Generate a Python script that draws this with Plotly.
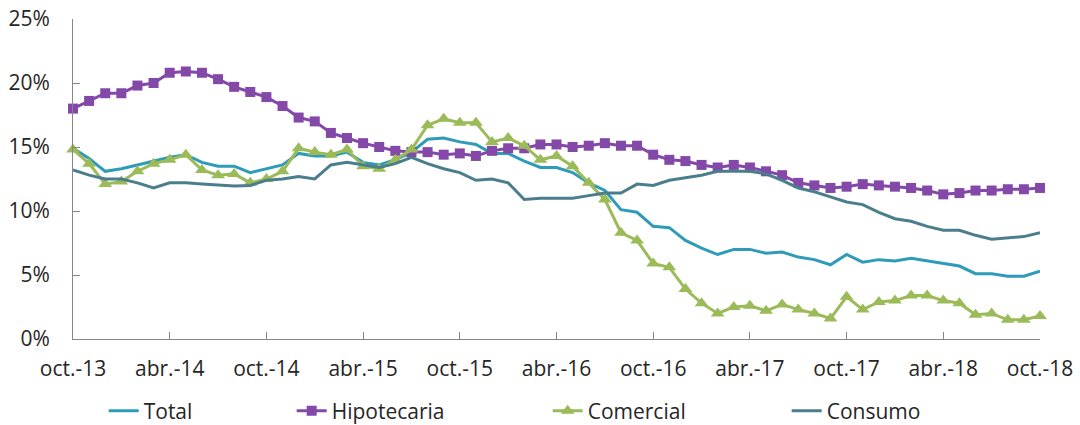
import plotly.graph_objects as go

# Monthly series, oct.-13 to oct.-18 (61 months), values in percent
months = list(range(61))
tick_positions = [0, 6, 12, 18, 24, 30, 36, 42, 48, 54, 60]
tick_labels = ["oct.-13", "abr.-14", "oct.-14", "abr.-15", "oct.-15", "abr.-16",
               "oct.-16", "abr.-17", "oct.-17", "abr.-18", "oct.-18"]

total = [14.9, 14.1, 13.1, 13.3, 13.6, 13.9, 14.2, 14.4, 13.8, 13.5,
         13.5, 13.0, 13.3, 13.6, 14.5, 14.3, 14.3, 14.6, 13.8, 13.6,
         14.0, 14.6, 15.6, 15.7, 15.4, 15.2, 14.5, 14.5, 13.9, 13.4,
         13.4, 13.0, 12.2, 11.6, 10.1, 9.9, 8.8, 8.7, 7.7, 7.1,
         6.6, 7.0, 7.0, 6.7, 6.8, 6.4, 6.2, 5.8, 6.6, 6.0,
         6.2, 6.1, 6.3, 6.1, 5.9, 5.7, 5.1, 5.1, 4.9, 4.9,
         5.3]

hipotecaria = [18.0, 18.6, 19.2, 19.2, 19.8, 20.0, 20.8, 20.9, 20.8, 20.3,
               19.7, 19.3, 18.9, 18.2, 17.3, 17.0, 16.1, 15.7, 15.3, 15.0,
               14.7, 14.6, 14.6, 14.4, 14.5, 14.3, 14.7, 14.9, 14.9, 15.2,
               15.2, 15.0, 15.1, 15.3, 15.1, 15.1, 14.4, 14.0, 13.9, 13.6,
               13.4, 13.6, 13.4, 13.1, 12.8, 12.2, 12.0, 11.8, 11.9, 12.1,
               12.0, 11.9, 11.8, 11.6, 11.3, 11.4, 11.6, 11.6, 11.7, 11.7,
               11.8]

comercial = [14.8, 13.7, 12.1, 12.3, 13.1, 13.7, 14.0, 14.4, 13.2, 12.8,
             12.9, 12.2, 12.5, 13.1, 14.9, 14.6, 14.4, 14.8, 13.5, 13.3,
             14.0, 14.8, 16.7, 17.2, 16.9, 16.9, 15.4, 15.7, 15.1, 14.0,
             14.3, 13.5, 12.2, 10.9, 8.3, 7.7, 5.9, 5.6, 3.9, 2.8,
             2.0, 2.5, 2.6, 2.2, 2.7, 2.3, 2.0, 1.6, 3.3, 2.3,
             2.9, 3.0, 3.4, 3.4, 3.0, 2.8, 1.9, 2.0, 1.5, 1.5,
             1.8]

consumo = [13.2, 12.8, 12.5, 12.5, 12.2, 11.8, 12.2, 12.2, 12.1, 12.0,
           11.95, 12.0, 12.4, 12.5, 12.7, 12.5, 13.6, 13.8, 13.6, 13.4,
           13.7, 14.2, 13.7, 13.3, 13.0, 12.4, 12.5, 12.2, 10.9, 11.0,
           11.0, 11.0, 11.2, 11.4, 11.4, 12.1, 12.0, 12.4, 12.6, 12.8,
           13.1, 13.1, 13.1, 12.9, 12.4, 11.8, 11.5, 11.1, 10.7, 10.5,
           9.9, 9.4, 9.2, 8.8, 8.5, 8.5, 8.1, 7.8, 7.9, 8.0,
           8.3]

FONT = "Open Sans, Noto Sans, sans-serif"
TEXT = "#262626"
AXIS = "#868686"
FS = 21

fig = go.Figure()
fig.add_trace(go.Scatter(
    x=months, y=total, name="Total", mode="lines",
    line=dict(color="#2E9BB8", width=3), legendwidth=143, cliponaxis=False))
fig.add_trace(go.Scatter(
    x=months, y=hipotecaria, name="Hipotecaria", mode="lines+markers",
    line=dict(color="#8348A8", width=3),
    marker=dict(symbol="square", size=10, color="#8348A8"),
    legendwidth=211, cliponaxis=False))
fig.add_trace(go.Scatter(
    x=months, y=comercial, name="Comercial", mode="lines+markers",
    line=dict(color="#9BBB59", width=3),
    marker=dict(symbol="triangle-up", size=12, color="#9BBB59"),
    legendwidth=194, cliponaxis=False))
fig.add_trace(go.Scatter(
    x=months, y=consumo, name="Consumo", mode="lines",
    line=dict(color="#4A7E8C", width=3), cliponaxis=False))

fig.update_layout(
    width=1080, height=425,
    margin=dict(l=73, r=40, t=19, b=86, autoexpand=False),
    paper_bgcolor="white", plot_bgcolor="white",
    font=dict(family=FONT, size=FS, color=TEXT),
    showlegend=True,
    legend=dict(orientation="h", xref="container", yref="container",
                x=0.096, xanchor="left", y=0.033, yanchor="middle",
                font=dict(family=FONT, size=FS, color=TEXT),
                bgcolor="rgba(0,0,0,0)", itemwidth=30, tracegroupgap=0),
)
fig.update_xaxes(
    range=[0, 60], tickmode="array", tickvals=tick_positions, ticktext=tick_labels,
    showgrid=False, zeroline=False, showline=True, linecolor=AXIS, linewidth=1,
    ticks="inside", ticklen=7, tickcolor=AXIS, tickwidth=1, automargin=False,
    tickfont=dict(family=FONT, size=FS, color=TEXT), ticklabelstandoff=11)
fig.update_yaxes(
    range=[0, 25], tickmode="array", tickvals=[0, 5, 10, 15, 20, 25],
    ticktext=["0%", "5%", "10%", "15%", "20%", "25%"],
    showgrid=False, zeroline=False, showline=True, linecolor=AXIS, linewidth=1,
    ticks="inside", ticklen=7, tickcolor=AXIS, tickwidth=1, automargin=False,
    tickfont=dict(family=FONT, size=FS, color=TEXT), ticklabelstandoff=18)

fig.write_html("out.html")
